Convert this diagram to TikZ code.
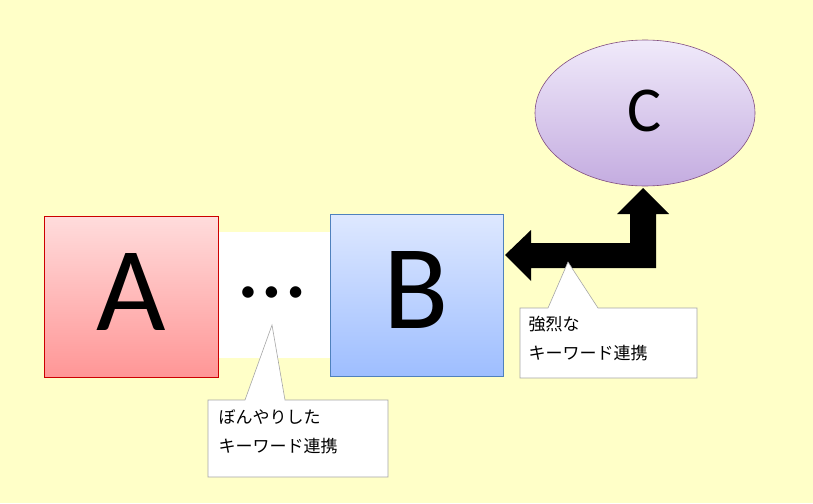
\documentclass[tikz,border=0pt]{standalone}
\usepackage{fontspec}
\setmainfont{Carlito}
\newfontfamily\cjk{Noto Sans CJK JP}
\begin{document}
\begin{tikzpicture}[x=1pt,y=-1pt,
  callout/.style={draw=gray!70,fill=white,line width=0.6pt},
  ctext/.style={font=\cjk\fontsize{17}{29}\selectfont,align=left,anchor=north west}]
\useasboundingbox (0,0) rectangle (813,503);
\fill[fill={rgb,255:red,255;green,255;blue,200}] (0,0) rectangle (813,503);
% white gap
\fill[white] (218,232) rectangle (330,358);
\node[font=\fontsize{95}{95}\selectfont] (dots) at (272,292) {…};
% A
\shade[top color={rgb,255:red,255;green,220;blue,220},bottom color={rgb,255:red,255;green,150;blue,150}] (44,216) rectangle (218,377);
\draw[red!80!black,line width=0.6pt] (44,216) rectangle (218,377);
\node[font=\fontsize{120}{120}\selectfont] (A) at (131,292) {A};
% B
\shade[top color={rgb,255:red,222;green,232;blue,255},bottom color={rgb,255:red,158;green,190;blue,255}] (330,214) rectangle (503,376);
\draw[draw={rgb,255:red,79;green,129;blue,189},line width=0.6pt] (330,214) rectangle (503,376);
\node[font=\fontsize{120}{120}\selectfont] (B) at (416,290) {B};
% C
\shade[top color={rgb,255:red,240;green,234;blue,250},bottom color={rgb,255:red,196;green,172;blue,224}] (645,113) ellipse [x radius=110,y radius=73];
\draw[gray!60!violet,line width=0.6pt] (645,113) ellipse [x radius=110,y radius=73];
\node[font=\fontsize{64}{64}\selectfont] (C) at (645,111) {C};
% thick arrow
\fill[black] (505,255) -- (531,230) -- (531,243) -- (630,243) -- (630,214) -- (617,214) -- (643,188) -- (669,214) -- (656,214) -- (656,268) -- (531,268) -- (531,281) -- cycle;
% callout 1
\draw[callout] (208,400) -- (245,400) -- (272,325) -- (285,400) -- (388,400) -- (388,477) -- (208,477) -- cycle;
\node[ctext] (t1) at (215,406) {ぼんやりした\\キーワード連携};
% callout 2
\draw[callout] (520,308) -- (548,308) -- (568,262) -- (598,308) -- (697,308) -- (697,378) -- (520,378) -- cycle;
\node[ctext] (t2) at (525,313) {強烈な\\キーワード連携};
\end{tikzpicture}
\end{document}
